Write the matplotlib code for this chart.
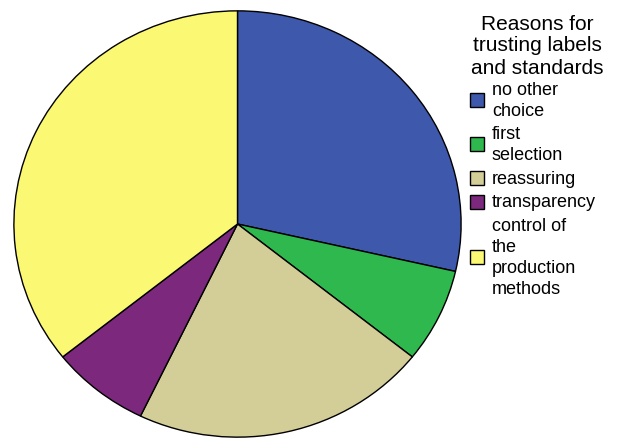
import matplotlib
matplotlib.use('Agg')
import matplotlib.pyplot as plt
from matplotlib.patches import Rectangle

plt.rcParams['font.family'] = ['Liberation Sans', 'DejaVu Sans']

# data (counts)
labels = ['no other\nchoice', 'first\nselection', 'reassuring', 'transparency',
          'control of\nthe\nproduction\nmethods']
counts = [4, 1, 3, 1, 5]
colors = ['#3E58AC', '#2EB84E', '#D3CE97', '#7B287D', '#FBF873']
title_lines = ['Reasons for', 'trusting labels', 'and standards']

W, H = 617, 439
fig = plt.figure(figsize=(W / 100, H / 100), dpi=100)

def px(x, y):
    return x / W, 1 - y / H

# pie (slightly elliptical like the original)
ax = fig.add_axes([13 / W, 0, 449 / W, 428 / H])
ax.pie(counts, colors=colors, startangle=90, counterclock=False,
       wedgeprops=dict(edgecolor='black', linewidth=1))
ax.set_aspect('auto')
ax.set_xlim(-1.004, 1.004)
ax.set_ylim(-1.004, 1.004)

# legend title
for i, t in enumerate(title_lines):
    fig.text(*px(537, 29.5 + i * 22), t, ha='center', va='baseline', fontsize=15)

# legend entries
y = 95
for lab, col in zip(labels, colors):
    lines = lab.split('\n')
    n = len(lines)
    for j, ln in enumerate(lines):
        fig.text(*px(492, y + j * 21), ln, ha='left', va='baseline', fontsize=13)
    cy = y + (n - 1) * 21 / 2 - 5
    x0, y0 = px(470, cy + 7)
    fig.patches.append(Rectangle((x0, y0), 14 / W, 14 / H, transform=fig.transFigure,
                                 facecolor=col, edgecolor='black', linewidth=1))
    y += n * 21 + 2.5

fig.savefig('out.png', dpi=100)
